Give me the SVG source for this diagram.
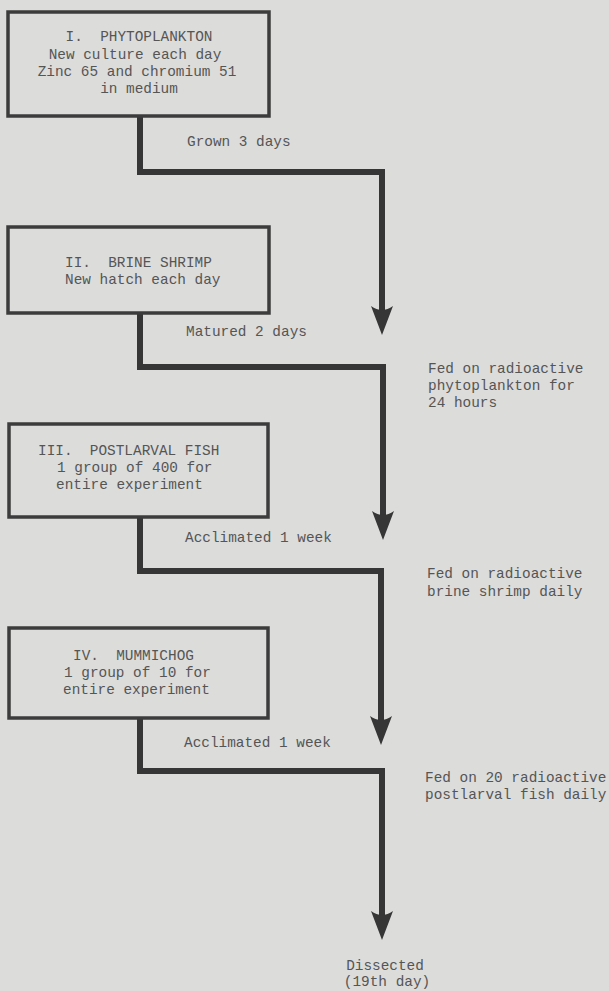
<svg xmlns="http://www.w3.org/2000/svg" xmlns:xlink="http://www.w3.org/1999/xlink" width="609" height="991" viewBox="0 0 609 991">
<style>
.bg{fill:#dcdcdb}
.box{fill:none;stroke:#3c3c3c;stroke-width:3.5}
.ln{fill:none;stroke:#363636;stroke-width:6;stroke-linejoin:miter}
.ah{fill:#363636}
text{font-family:"Liberation Mono","DejaVu Sans Mono",monospace;font-size:14.4px;fill:#555555;white-space:pre}
.c{text-anchor:middle}
</style>
<defs>
<path id="ah" d="M0,0 L-11,-29 Q0,-21 11,-29 Z"/>
</defs>
<rect class="bg" x="0" y="0" width="609" height="991"/>

<g id="connectors">
<path class="ln" d="M140,117 V172 H382 V318"/>
<use class="ah" xlink:href="#ah" x="382" y="335"/>
<path class="ln" d="M140,314 V367 H383 V523"/>
<use class="ah" xlink:href="#ah" x="383" y="540"/>
<path class="ln" d="M140,518 V571 H381 V728"/>
<use class="ah" xlink:href="#ah" x="381" y="745"/>
<path class="ln" d="M140,719 V771 H382 V923"/>
<use class="ah" xlink:href="#ah" x="382" y="940"/>
</g>

<g id="node-phytoplankton">
<rect class="box" x="8" y="12" width="261" height="104"/>
<text class="c" x="139" y="41" xml:space="preserve">I.  PHYTOPLANKTON</text>
<text class="c" x="135" y="59">New culture each day</text>
<text class="c" x="137" y="76">Zinc 65 and chromium 51</text>
<text class="c" x="139" y="93">in medium</text>
</g>

<g id="node-brine-shrimp">
<rect class="box" x="8" y="227" width="261" height="86"/>
<text x="65" y="267" xml:space="preserve">II.  BRINE SHRIMP</text>
<text x="65" y="284">New hatch each day</text>
</g>

<g id="node-postlarval-fish">
<rect class="box" x="9" y="424" width="259" height="93"/>
<text x="38" y="455" xml:space="preserve">III.  POSTLARVAL FISH</text>
<text x="57" y="472">1 group of 400 for</text>
<text x="56" y="489">entire experiment</text>
</g>

<g id="node-mummichog">
<rect class="box" x="9" y="628" width="259" height="90"/>
<text x="73" y="660" xml:space="preserve">IV.  MUMMICHOG</text>
<text x="64" y="677">1 group of 10 for</text>
<text x="63" y="694">entire experiment</text>
</g>

<g id="labels">
<text x="187" y="146">Grown 3 days</text>
<text x="186" y="336">Matured 2 days</text>
<text x="185" y="542">Acclimated 1 week</text>
<text x="184" y="747">Acclimated 1 week</text>
<text x="428" y="373">Fed on radioactive</text>
<text x="428" y="390">phytoplankton for</text>
<text x="428" y="407">24 hours</text>
<text x="427" y="578">Fed on radioactive</text>
<text x="427" y="596">brine shrimp daily</text>
<text x="425" y="782">Fed on 20 radioactive</text>
<text x="425" y="799">postlarval fish daily</text>
</g>

<g id="node-dissected">
<text class="c" x="385" y="970">Dissected</text>
<text class="c" x="387" y="986">(19th day)</text>
</g>
</svg>
